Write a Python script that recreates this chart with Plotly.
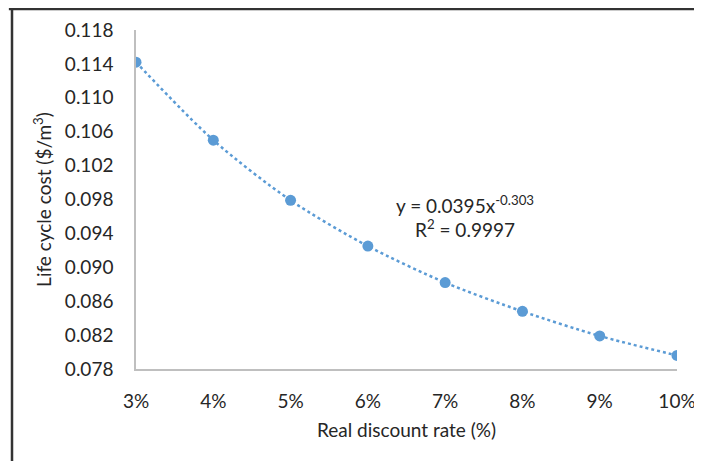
import plotly.graph_objects as go

rates = [3, 4, 5, 6, 7, 8, 9, 10]
rate_labels = ["3%", "4%", "5%", "6%", "7%", "8%", "9%", "10%"]
lcc = [0.1142, 0.1050, 0.0979, 0.0925, 0.0882, 0.0848, 0.0819, 0.0796]
y_ticks = [0.078, 0.082, 0.086, 0.090, 0.094, 0.098, 0.102, 0.106, 0.110, 0.114, 0.118]
y_tick_labels = ["%.3f" % v for v in y_ticks]

blue = "#5B9BD5"
font = "Lato"
fs = 19

fig = go.Figure()
fig.add_trace(go.Scatter(x=rates, y=lcc, mode="lines",
                         line=dict(color=blue, width=2.5, dash="dot", shape="spline", smoothing=0.8),
                         hoverinfo="skip", showlegend=False))
fig.add_trace(go.Scatter(x=rates, y=lcc, mode="markers",
                         marker=dict(color=blue, size=11), showlegend=False))

fig.update_layout(
    width=694, height=453,
    margin=dict(l=128, r=25, t=22, b=92, autoexpand=False),
    paper_bgcolor="white", plot_bgcolor="white",
    font=dict(family=font, size=fs, color="#262626"),
    xaxis=dict(range=[3, 10], tickvals=rates, ticktext=rate_labels, automargin=False,
               showgrid=False, zeroline=False, showline=True, linecolor="#BFBFBF", linewidth=1.5,
               ticks="", ticklabelstandoff=14,
               title=dict(text="Real discount rate (%)", standoff=13, font=dict(size=fs))),
    yaxis=dict(range=[0.078, 0.118], tickvals=y_ticks, ticktext=y_tick_labels, automargin=False,
               showgrid=False, zeroline=False, showline=True, linecolor="#BFBFBF", linewidth=1.5,
               ticks="", ticklabelstandoff=17,
               title=dict(text="Life cycle cost ($/m<sup>3</sup>)", standoff=8, font=dict(size=fs))),
    annotations=[
        dict(x=7.26, y=0.0974, xref="x", yref="y", xanchor="center", yanchor="middle",
             text="y = 0.0395x<sup>-0.303</sup>", showarrow=False, font=dict(size=fs)),
        dict(x=7.26, y=0.0946, xref="x", yref="y", xanchor="center", yanchor="middle",
             text="R<sup>2</sup> = 0.9997", showarrow=False, font=dict(size=fs)),
    ],
    shapes=[
        dict(type="line", xref="paper", yref="paper", x0=-0.235, x1=1.2, y0=1.0619, y1=1.0619,
             line=dict(color="#333333", width=2.5)),
        dict(type="line", xref="paper", yref="paper", x0=-0.2292, x1=-0.2292, y0=1.07, y1=-0.4,
             line=dict(color="#333333", width=2.5)),
    ],
)

fig.write_html("out.html")
